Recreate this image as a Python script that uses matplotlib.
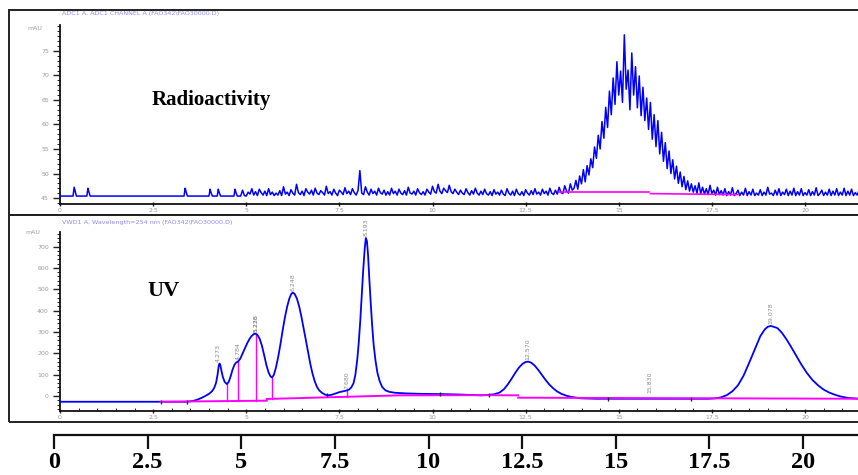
import numpy as np
import matplotlib
matplotlib.use("Agg")
import matplotlib.pyplot as plt
from matplotlib.patches import Rectangle
from matplotlib.ticker import MultipleLocator

# ---------------- data ----------------
# Radioactivity detector: flat baseline with a few isolated counts early on,
# then a sampled segment (0.05 min step) that carries the labelled peak.
rad_base = 45.4
rad_spike_t = [0.38, 0.75, 3.36, 4.03, 4.25, 4.70]
rad_spike_h = [47.2, 47.0, 47.0, 46.8, 46.8, 46.8]
rad_dense_start = 4.80
rad_dense_step = 0.05
rad_dense = [
    45.4, 45.4, 46.6, 45.5, 45.4, 46.2, 45.8, 46.9, 45.6, 46.3, 45.5, 46.8, 46.1, 45.6, 46.4, 45.5, 46.9, 45.7, 46.2, 45.5,
    46.0, 45.6, 46.5, 45.5, 47.3, 45.8, 46.2, 45.5, 46.7, 46.0, 45.6, 47.8, 46.1, 45.7, 46.4, 45.5, 46.9, 46.2, 45.8, 46.6,
    45.6, 47.0, 46.0, 45.7, 46.5, 46.1, 45.6, 47.4, 45.9, 46.3, 45.6, 46.8, 46.0, 45.5, 46.6, 46.2, 45.7, 47.1, 45.9, 46.4,
    45.7, 46.9, 46.1, 45.6, 46.5, 50.6, 46.0, 45.7, 47.3, 46.2, 45.6, 46.8, 45.9, 46.4, 45.6, 47.0, 46.1, 45.8, 46.6, 45.6,
    46.3, 45.6, 47.0, 45.9, 46.4, 45.6, 46.8, 46.0, 45.7, 46.5, 45.6, 47.2, 46.0, 45.8, 46.4, 45.6, 46.9, 46.1, 45.7, 46.3,
    45.6, 46.8, 46.2, 45.8, 47.4, 46.3, 46.0, 47.8, 46.4, 45.9, 47.0, 46.5, 46.1, 47.6, 46.3, 45.9, 46.8, 46.2, 45.7, 46.6,
    46.0, 45.7, 46.9, 46.1, 45.6, 46.5, 45.8, 47.0, 46.0, 45.6, 46.4, 45.7, 46.8, 45.9, 45.6, 46.3, 45.5, 46.7, 45.8, 46.2,
    45.6, 46.6, 45.8, 45.5, 46.9, 46.0, 45.6, 46.4, 45.5, 46.8, 45.9, 45.6, 46.3, 45.5, 46.7, 46.0, 45.6, 46.5, 45.7, 46.9,
    45.8, 46.2, 45.6, 46.8, 45.9, 46.4, 45.6, 47.0, 46.0, 45.7, 46.6, 45.8, 47.2, 46.1, 45.9, 47.5, 46.4, 46.0, 47.9, 46.6,
    47.0, 48.6, 46.8, 49.5, 47.9, 50.8, 48.3, 51.6, 49.7, 53.0, 51.2, 55.4, 53.1, 57.8, 55.0, 60.6, 57.2, 63.5, 59.4, 66.8,
    62.0, 69.5, 64.1, 72.8, 66.0, 70.9, 64.5, 78.3, 67.2, 71.1, 63.0, 74.6, 66.0, 71.8, 63.4, 69.9, 61.8, 67.6, 60.8, 65.4,
    59.0, 64.5, 57.0, 62.0, 55.5, 60.8, 54.0, 58.4, 52.5, 56.3, 51.0, 54.6, 50.0, 52.8, 48.9, 51.5, 48.0, 50.3, 47.3, 49.4,
    46.7, 48.5, 46.4, 47.9, 46.2, 47.5, 46.0, 48.1, 45.9, 47.2, 45.8, 46.9, 45.7, 47.6, 45.9, 46.6, 45.6, 47.2, 45.7, 46.5,
    45.6, 46.9, 45.5, 46.3, 45.6, 47.1, 45.5, 45.9, 46.6, 45.5, 46.2, 45.6, 47.0, 45.5, 46.3, 45.6, 46.8, 45.5, 46.0, 45.6,
    46.7, 45.5, 46.2, 45.6, 47.2, 45.8, 46.0, 45.5, 46.6, 45.6, 46.9, 45.5, 46.2, 45.7, 46.8, 45.5, 46.4, 45.6, 47.0, 45.5,
    46.3, 45.6, 46.9, 45.5, 46.1, 45.6, 46.7, 45.5, 46.3, 45.6, 47.1, 45.5, 45.9, 46.6, 45.5, 46.2, 45.6, 46.8, 45.5, 46.4,
    45.6, 46.9, 45.5, 46.2, 45.6, 47.0, 45.5, 46.4, 45.6, 46.8, 45.5, 46.1, 45.6, 46.6,
]
# integration baseline under the radio peak (start, end) pairs
rad_bl_t = [(13.40, 15.80), (15.85, 18.20)]
rad_bl_v = [(46.3, 46.3), (45.9, 45.7)]

# UV 254 nm trace (min, mAU)
uv_t = [0.00, 3.40, 3.50, 3.60, 3.70, 3.80, 3.90, 4.00, 4.08, 4.14, 4.19, 4.23, 4.26, 4.28, 4.30,
        4.33, 4.37, 4.42, 4.48, 4.53, 4.58, 4.63, 4.68, 4.73, 4.78, 4.84, 4.90, 4.96, 5.02, 5.08,
        5.14, 5.20, 5.25, 5.30, 5.36, 5.42, 5.48, 5.54, 5.60, 5.65, 5.69, 5.74, 5.80, 5.86, 5.92,
        5.98, 6.04, 6.10, 6.16, 6.21, 6.25, 6.30, 6.36, 6.42, 6.48, 6.54, 6.60, 6.66, 6.72, 6.78,
        6.84, 6.90, 6.96, 7.04, 7.12, 7.20, 7.30, 7.40, 7.50, 7.60, 7.68, 7.76, 7.82, 7.88, 7.93,
        7.98, 8.02, 8.06, 8.10, 8.14, 8.18, 8.21, 8.24, 8.27, 8.30, 8.34, 8.38, 8.42, 8.47, 8.52,
        8.58, 8.65, 8.74, 8.85, 9.00, 9.30, 9.70, 10.20, 10.70, 11.00, 11.30, 11.50, 11.65, 11.80,
        11.92, 12.02, 12.12, 12.22, 12.32, 12.42, 12.50, 12.57, 12.65, 12.74, 12.84, 12.94, 13.04,
        13.14, 13.24, 13.34, 13.46, 13.60, 13.75, 13.98, 14.40, 15.00, 16.00, 17.00, 17.40, 17.60,
        17.75, 17.90, 18.05, 18.20, 18.35, 18.50, 18.65, 18.80, 18.92, 19.00, 19.078, 19.16, 19.26,
        19.38, 19.50, 19.62, 19.76, 19.90, 20.05, 20.20, 20.35, 20.50, 20.65, 20.80, 20.95, 21.15,
        21.45]
uv_v = [-27, -27, -25, -22, -16, -9, 0, 10, 22, 38, 62, 100, 140, 152, 148,
        122, 90, 66, 56, 66, 92, 122, 145, 157, 161, 175, 198, 222, 245, 265,
        280, 290, 292, 286, 268, 236, 192, 145, 110, 92, 87, 98, 135, 185, 245,
        310, 370, 420, 458, 478, 484, 478, 456, 420, 372, 318, 262, 205, 150, 104,
        68, 42, 26, 14, 6, 3, 6, 12, 18, 22, 25, 30, 40, 60, 100,
        170, 250, 350, 470, 590, 690, 740, 725, 660, 560, 440, 330, 240, 165, 110,
        70, 42, 26, 19, 15, 12, 10, 9, 7, 5, 3, 5, 8, 16,
        32, 54, 80, 108, 133, 151, 159, 161, 156, 143, 122, 98, 74,
        53, 36, 22, 10, 1, -5, -11, -13, -13, -13, -13, -13, -11,
        -6, 4, 22, 50, 95, 155, 218, 280, 312, 324, 328, 324, 318,
        296, 266, 232, 190, 148, 108, 75, 50, 30, 16, 6, -2, -9,
        -13]

# integration baselines (each a polyline)
uv_bl = [
    ([2.70, 5.55], [-27, -22]),
    ([5.55, 9.10, 11.30, 12.30], [-14, 3, 4, 3]),
    ([12.30, 21.45], [-8, -13]),
]
# peak splits drawn as drop lines
uv_drop_t = [4.48, 4.78, 5.25, 5.69, 7.70]
# integration event markers
uv_mark_t = [2.70, 3.42, 7.17, 10.20, 11.53, 14.70, 16.93]

# retention-time annotations (label, time, mAU at label foot)
peak_labels = ["4.273", "4.784", "5.228", "5.236", "6.248", "7.680", "8.193", "12.570", "15.830", "19.078"]
peak_label_t = [4.26, 4.78, 5.25, 5.26, 6.25, 7.70, 8.21, 12.57, 15.83, 19.078]
peak_label_v = [160, 168, 298, 298, 492, 34, 748, 170, 14, 336]

big_ticks = [0, 2.5, 5, 7.5, 10, 12.5, 15, 17.5, 20]
big_tick_labels = ["0", "2.5", "5", "7.5", "10", "12.5", "15", "17.5", "20"]

# ---------------- build the radio trace ----------------
rad_t = [0.0]
rad_v = [rad_base]
for t, h in zip(rad_spike_t, rad_spike_h):
    rad_t += [t - 0.03, t, t + 0.02, t + 0.06]
    rad_v += [rad_base, h, h - 0.6, rad_base]
dense_t = rad_dense_start + rad_dense_step * np.arange(len(rad_dense))
rad_t = np.concatenate([rad_t, [rad_dense_start - 0.03], dense_t])
rad_v = np.concatenate([rad_v, [rad_base], rad_dense])

# ---------------- figure ----------------
W, H = 858, 475
fig = plt.figure(figsize=(W / 100, H / 100), dpi=100)
fig.patch.set_facecolor("white")


def fx(px):
    return px / W


def fy(py):
    return 1 - py / H


serif = "Liberation Serif"
grey = "#9a9a9a"
header_blue = "#8c8cf0"

# panel frames
for top, bot in [(10, 215), (215, 422)]:
    fig.add_artist(Rectangle((fx(9), fy(bot)), fx(W + 5) - fx(9), fy(top) - fy(bot),
                             transform=fig.transFigure, fill=False, edgecolor="#222222",
                             linewidth=1.4, zorder=0))

xmax = (W - 60) / 37.25


def style_panel(ax, ylo, yhi, major, minor):
    ax.set_xlim(0, xmax)
    ax.set_ylim(ylo, yhi)
    for s in ("top", "right"):
        ax.spines[s].set_visible(False)
    for s in ("left", "bottom"):
        ax.spines[s].set_linewidth(1.3)
        ax.spines[s].set_color("#111111")
    ax.yaxis.set_major_locator(MultipleLocator(major))
    ax.yaxis.set_minor_locator(MultipleLocator(minor))
    ax.xaxis.set_major_locator(MultipleLocator(2.5))
    ax.tick_params(axis="y", which="major", length=5, width=1.0, color="#222222",
                   labelsize=4.5, labelcolor=grey, pad=3)
    ax.tick_params(axis="y", which="minor", length=2.5, width=0.7, color="#222222")
    ax.tick_params(axis="x", which="major", length=3, width=1.0, color="#222222",
                   labelsize=4.5, labelcolor=grey, pad=1.5, direction="inout")
    ax.set_facecolor("none")


# ----- radioactivity panel -----
ax1 = fig.add_axes([fx(60), fy(204), fx(W) - fx(60), fy(25) - fy(204)])
style_panel(ax1, 43.78, 80.3, 5, 1)
ax1.set_yticks([45, 50, 55, 60, 65, 70, 75])
ax1.set_xticks([0, 2.5, 5, 7.5, 10, 12.5, 15, 17.5, 20])
ax1.set_xticklabels(["0", "2.5", "5", "7.5", "10", "12.5", "15", "17.5", "20"])
ax1.plot(rad_t, rad_v, color="#0000ff", linewidth=1.1, zorder=3)
for (t0, t1), (v0, v1) in zip(rad_bl_t, rad_bl_v):
    ax1.plot([t0, t1], [v0, v1], color="#ff00ff", linewidth=1.2, zorder=4)
ax1.text(2.47, 65.0, "Radioactivity", family=serif, fontweight="bold", fontsize=15,
         ha="left", va="center", color="black")
fig.text(fx(62), fy(13), "ADC1 A, ADC1 CHANNEL A (FAO342\\FAO30000.D)", fontsize=4.6,
         color=header_blue, ha="left", va="center")
fig.text(fx(35), fy(29), "mAU", fontsize=4.5, color=grey, ha="center", va="center")

# ----- UV panel -----
ax2 = fig.add_axes([fx(60), fy(411), fx(W) - fx(60), fy(232) - fy(411)])
style_panel(ax2, -70.3, 768, 100, 20)
ax2.set_yticks([0, 100, 200, 300, 400, 500, 600, 700])
ax2.set_xticks([0, 2.5, 5, 7.5, 10, 12.5, 15, 17.5, 20])
ax2.set_xticklabels(["0", "2.5", "5", "7.5", "10", "12.5", "15", "17.5", "20"])
ax2.xaxis.set_minor_locator(MultipleLocator(0.5))
ax2.tick_params(axis="x", which="minor", length=2, width=0.7, color="#222222", direction="in")
ax2.plot(uv_t, uv_v, color="#0000ff", linewidth=1.3, zorder=3)
for bt, bv in uv_bl:
    ax2.plot(bt, bv, color="#ff00ff", linewidth=1.4, zorder=4)
for t in uv_drop_t:
    top = np.interp(t, uv_t, uv_v)
    # baseline level at this time from the segment that covers it
    base = None
    for bt, bv in uv_bl:
        if bt[0] <= t <= bt[-1]:
            base = np.interp(t, bt, bv)
            break
    ax2.plot([t, t], [base, top], color="#ff00ff", linewidth=1.0, zorder=2)
mark_v = np.interp(uv_mark_t, uv_t, uv_v)
ax2.plot(uv_mark_t, mark_v, linestyle="none", marker="|", markersize=3, color="#222222",
         markeredgewidth=1.0, zorder=5)
for lab, t, v in zip(peak_labels, peak_label_t, peak_label_v):
    ax2.text(t, v, lab, rotation=90, fontsize=4.5, color="#8a8a8a", ha="center", va="bottom")
ax2.text(2.35, 490, "UV", family=serif, fontweight="bold", fontsize=16,
         ha="left", va="center", color="black")
fig.text(fx(62), fy(222), "VWD1 A, Wavelength=254 nm (FAO342\\FAO30000.D)", fontsize=4.6,
         color=header_blue, ha="left", va="center")
fig.text(fx(33), fy(233), "mAU", fontsize=4.5, color=grey, ha="center", va="center")

# ----- common time axis -----
ax3 = fig.add_axes([fx(54), fy(435), fx(W) - fx(54), 0.001])
ax3.set_xlim(0, (W - 54) / 37.45)
ax3.set_ylim(0, 1)
for s in ("top", "right", "left"):
    ax3.spines[s].set_visible(False)
ax3.spines["bottom"].set_linewidth(1.6)
ax3.spines["bottom"].set_color("#111111")
ax3.set_yticks([])
ax3.set_xticks(big_ticks)
ax3.set_xticklabels(big_tick_labels, family=serif, fontweight="bold", fontsize=17.5)
ax3.tick_params(axis="x", length=10, width=1.6, color="#111111", pad=2)
ax3.set_facecolor("none")

fig.savefig("out.png", dpi=100, facecolor="white")
